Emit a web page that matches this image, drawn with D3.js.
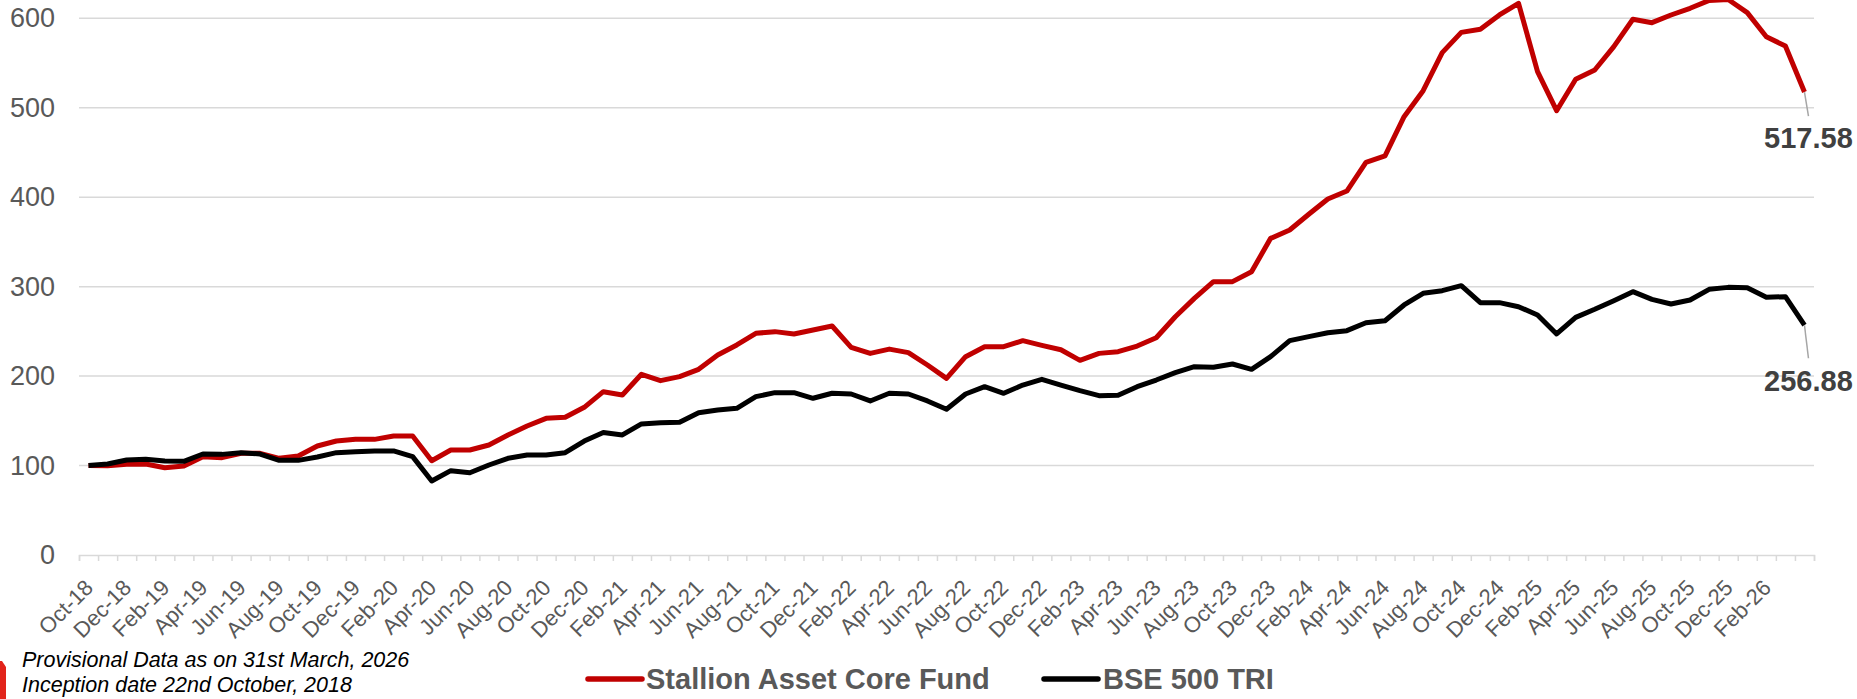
<!DOCTYPE html>
<html>
<head>
<meta charset="utf-8">
<script src="https://cdn.jsdelivr.net/npm/d3@7"></script>
<style>
  body { margin: 0; background: #fff; }
  text { font-family: "Liberation Sans", Arial, sans-serif; }
</style>
</head>
<body>
<div id="container"></div>
<script>
/* DATA */
// one point at inception, then one per month end
const fund = [100, 99.9, 101.4, 101.7, 97.6, 99.5, 109.9, 108.8, 113.7, 113.7,
  108.1, 110.7, 121.9, 127.4, 129.3, 129.3, 133, 133, 105.4, 117.4,
  117.4, 123, 134.2, 144.2, 152.8, 153.9, 165.1, 182.6, 178.9, 202,
  194.9, 199.4, 207.6, 223.6, 234.8, 247.8, 249.7, 247.1, 251.5, 256,
  232.2, 225.4, 230.2, 226.2, 212.4, 197.5, 221.7, 232.9, 232.9, 239.6,
  234.4, 229.5, 217.6, 225.4, 227.3, 233.6, 242.9, 266.4, 286.9, 305.6,
  305.6, 316.7, 354, 363.3, 380.9, 398, 406.9, 439, 446.1, 490,
  519.1, 561.6, 584.3, 587.7, 603.7, 616.8, 540.3, 496.7, 531.8, 542.2,
  568.3, 598.9, 595.1, 603.7, 611.2, 620, 621, 606.3, 579.4, 569,
  517.58];

const bse500 = [100, 101.7, 106.2, 107, 105.1, 104.7, 112.9, 112.5, 114.4, 112.9,
  105.8, 105.8, 109.6, 114.4, 115.5, 116.3, 116.3, 110, 82.7, 94.3,
  92, 100.6, 108.1, 111.8, 111.8, 114.4, 127.4, 137, 134.2, 146.5,
  147.9, 148.3, 159.1, 162.1, 164, 177, 181.5, 181.5, 175.2, 180.8,
  180, 172.2, 180.8, 180, 172.2, 162.9, 180, 188.2, 180.8, 190,
  196.4, 190, 183.7, 178.1, 178.5, 188.2, 195.6, 203.8, 210.5, 209.8,
  213.5, 207.6, 221.7, 239.6, 244.1, 248.5, 250.8, 259.7, 261.9, 279.5,
  292.6, 295.5, 301.1, 282.1, 282.1, 277.6, 268.3, 247.1, 265.7, 274.7,
  284.3, 294.4, 285.8, 280.6, 285.1, 297, 299.2, 298.8, 288.1, 288.8,
  256.88];

// shown on every second category
const tickLabels = ["Oct-18", "Dec-18", "Feb-19", "Apr-19", "Jun-19", "Aug-19", "Oct-19", "Dec-19",
  "Feb-20", "Apr-20", "Jun-20", "Aug-20", "Oct-20", "Dec-20", "Feb-21", "Apr-21", "Jun-21",
  "Aug-21", "Oct-21", "Dec-21", "Feb-22", "Apr-22", "Jun-22", "Aug-22", "Oct-22", "Dec-22",
  "Feb-23", "Apr-23", "Jun-23", "Aug-23", "Oct-23", "Dec-23", "Feb-24", "Apr-24", "Jun-24",
  "Aug-24", "Oct-24", "Dec-24", "Feb-25", "Apr-25", "Jun-25", "Aug-25", "Oct-25", "Dec-25",
  "Feb-26"];

const yTicks = [0, 100, 200, 300, 400, 500, 600];
const seriesNames = ["Stallion Asset Core Fund", "BSE 500 TRI"];
const notes = ["Provisional Data as on 31st March, 2026", "Inception date 22nd October, 2018"];

/* CONSTANTS AND GLOBALS */
const width = 1857;
const height = 699;
const margin = { top: 18.3, bottom: 144, left: 79, right: 43 };
const colors = ["#c00000", "#000000"];
const grey = "#d9d9d9";

/* SCALES */
const xScale = d3.scaleBand()
  .domain(d3.range(fund.length))
  .range([margin.left, width - margin.right]);

const xEdges = d3.scaleLinear()
  .domain([0, fund.length])
  .range([margin.left, width - margin.right]);

const yScale = d3.scaleLinear()
  .domain([0, 600])
  .range([height - margin.bottom, margin.top]);

const cx = i => xScale(i) + xScale.bandwidth() / 2;

/* HTML ELEMENTS */
const svg = d3.select("#container")
  .append("svg")
  .attr("width", width)
  .attr("height", height)
  .style("display", "block")
  .style("background-color", "#fff");

// gridlines
svg.append("g")
  .selectAll("line")
  .data(yTicks.slice(1))
  .join("line")
  .attr("x1", margin.left)
  .attr("x2", width - margin.right)
  .attr("y1", d => yScale(d))
  .attr("y2", d => yScale(d))
  .attr("stroke", grey)
  .attr("stroke-width", 1.5);

// y axis labels
const yAxis = d3.axisLeft(yScale).tickValues(yTicks).tickSize(0).tickPadding(24);
svg.append("g")
  .attr("transform", `translate(${margin.left},0)`)
  .call(yAxis)
  .call(g => g.select(".domain").remove())
  .call(g => g.selectAll("text")
    .style("font-family", "Liberation Sans, Arial, sans-serif")
    .style("font-size", "27px")
    .attr("fill", "#595959"));

// x axis line with tick marks between categories
const xAxis = d3.axisBottom(xEdges)
  .tickValues(d3.range(fund.length + 1))
  .tickFormat("")
  .tickSize(6)
  .tickSizeOuter(6);
svg.append("g")
  .attr("transform", `translate(0,${height - margin.bottom})`)
  .call(xAxis)
  .call(g => g.selectAll("line, path").attr("stroke", grey).attr("stroke-width", 1.5));

// x labels
svg.append("g")
  .selectAll("text")
  .data(tickLabels)
  .join("text")
  .attr("transform", (d, k) => `translate(${cx(k * 2) + 6},589) rotate(-45)`)
  .attr("text-anchor", "end")
  .style("font-size", "22px")
  .attr("fill", "#595959")
  .text(d => d);

// lines
const line = d3.line()
  .x((d, i) => cx(i))
  .y(d => yScale(d));

[fund, bse500].forEach((series, s) => {
  svg.append("path")
    .datum(series)
    .attr("d", line)
    .attr("fill", "none")
    .attr("stroke", colors[s])
    .attr("stroke-width", 5)
    .attr("stroke-linejoin", "round");
});

// end labels with leader lines
const last = fund.length - 1;
[[fund, 24, 56], [bse500, 33, 66]].forEach(([series, lead, base]) => {
  const px = cx(last), py = yScale(series[last]);
  svg.append("line")
    .attr("x1", px).attr("y1", py)
    .attr("x2", px + 4).attr("y2", py + lead)
    .attr("stroke", "#a6a6a6")
    .attr("stroke-width", 1.5);
  svg.append("text")
    .attr("x", px + 4)
    .attr("y", py + base)
    .attr("text-anchor", "middle")
    .style("font-size", "29px")
    .style("font-weight", "bold")
    .attr("fill", "#404040")
    .text(series[last].toFixed(2));
});

// legend
const legend = svg.append("g");
[[588, 646], [1044, 1103]].forEach(([lx, tx], s) => {
  legend.append("line")
    .attr("x1", lx).attr("x2", lx + 54)
    .attr("y1", 679).attr("y2", 679)
    .attr("stroke", colors[s])
    .attr("stroke-width", 5.5)
    .attr("stroke-linecap", "round");
  legend.append("text")
    .attr("x", tx)
    .attr("y", 689)
    .style("font-size", "29px")
    .style("font-weight", "bold")
    .attr("fill", "#595959")
    .text(seriesNames[s]);
});

// notes
svg.append("g")
  .selectAll("text")
  .data(notes)
  .join("text")
  .attr("x", 22)
  .attr("y", (d, i) => 667 + i * 25)
  .style("font-size", "21.5px")
  .style("font-style", "italic")
  .attr("fill", "#000")
  .text(d => d);

// red corner mark
svg.append("path")
  .attr("d", "M0,661 L2,661 L6,667 L6,699 L0,699 Z")
  .attr("fill", "#e2231a");
</script>
</body>
</html>
